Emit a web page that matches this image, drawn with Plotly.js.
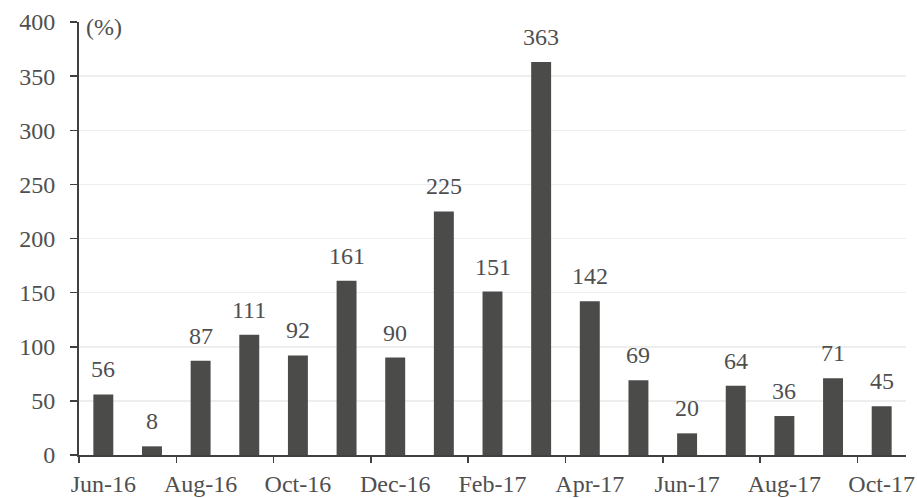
<!DOCTYPE html>
<html>
<head>
<meta charset="utf-8">
<script src="https://cdn.plot.ly/plotly-3.0.1.min.js"></script>
<style>
  html, body { margin: 0; padding: 0; background: #ffffff; }
  #chart { width: 917px; height: 498px; }
</style>
</head>
<body>
<div id="chart"></div>
<script>
// Monthly values, June 2016 to October 2017
const months = ["Jun-16", "Jul-16", "Aug-16", "Sep-16", "Oct-16", "Nov-16", "Dec-16", "Jan-17",
                "Feb-17", "Mar-17", "Apr-17", "May-17", "Jun-17", "Jul-17", "Aug-17", "Sep-17", "Oct-17"];
const values = [56, 8, 87, 111, 92, 161, 90, 225, 151, 363, 142, 69, 20, 64, 36, 71, 45];
const yTicks = [0, 50, 100, 150, 200, 250, 300, 350, 400];

const FONT = "Liberation Serif, DejaVu Serif, serif";
const SIZE = 24;
const TEXT = "#4f4f4f";

const trace = {
  type: "bar",
  x: months,
  y: values,
  marker: { color: "#4b4b4a" },
  hoverinfo: "x+y"
};

// value labels above each bar
const labels = months.map((m, i) => ({
  x: m, y: values[i], xref: "x", yref: "y",
  text: String(values[i]), showarrow: false,
  yanchor: "bottom", yshift: 10,
  font: { family: FONT, size: SIZE, color: TEXT }
}));

labels.push({
  x: 0, y: 1, xref: "paper", yref: "paper",
  xanchor: "left", yanchor: "middle", xshift: 5, yshift: -5,
  text: "(%)", showarrow: false,
  font: { family: FONT, size: SIZE, color: TEXT }
});

const layout = {
  width: 917, height: 498,
  margin: { l: 79, r: 11, t: 22, b: 43 },
  paper_bgcolor: "#ffffff",
  plot_bgcolor: "#ffffff",
  showlegend: false,
  bargap: 0.59,
  font: { family: FONT, size: SIZE, color: TEXT },
  xaxis: {
    type: "category",
    tickmode: "linear", tick0: 0, dtick: 2,
    tickson: "boundaries",
    tickangle: 0,
    ticks: "outside", ticklen: 6, tickwidth: 1.5, tickcolor: "#404040",
    showline: true, linecolor: "#404040", linewidth: 2,
    showgrid: false, zeroline: false,
    ticklabelstandoff: 6,
    tickfont: { family: FONT, size: SIZE, color: TEXT }
  },
  yaxis: {
    range: [0, 400],
    tickmode: "array", tickvals: yTicks, ticktext: yTicks.map(String),
    ticks: "outside", ticklen: 7, tickwidth: 1.5, tickcolor: "#404040",
    showline: true, linecolor: "#404040", linewidth: 2,
    showgrid: true, gridcolor: "#eeeeee", gridwidth: 1.5,
    zeroline: false,
    ticklabelstandoff: 10,
    tickfont: { family: FONT, size: SIZE, color: TEXT }
  },
  annotations: labels
};

Plotly.newPlot("chart", [trace], layout, { staticPlot: true, displayModeBar: false });
</script>
</body>
</html>
